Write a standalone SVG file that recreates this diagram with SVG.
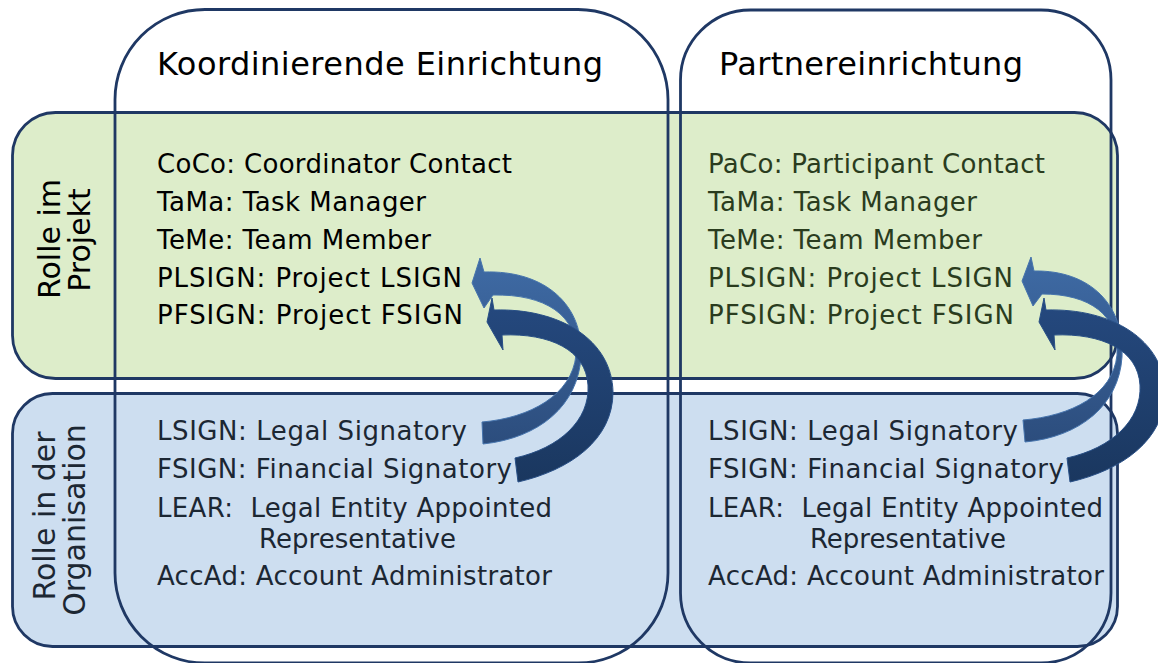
<svg xmlns="http://www.w3.org/2000/svg" width="1158" height="663" viewBox="0 0 1158 663">
  <defs>
    <linearGradient id="gl" x1="0" y1="0" x2="0" y2="1">
      <stop offset="0" stop-color="#3f6ba5"/>
      <stop offset="1" stop-color="#2c4d7d"/>
    </linearGradient>
    <linearGradient id="gd" x1="0" y1="0" x2="0" y2="1">
      <stop offset="0" stop-color="#25497f"/>
      <stop offset="1" stop-color="#1a375f"/>
    </linearGradient>
  </defs>
  <style>
    .row { stroke: #1f3864; stroke-width: 2.8; }
    .green { fill: #ddedca; }
    .blue { fill: #cddef0; }
    .col { fill: none; stroke: #1f3864; stroke-width: 2.8; }
    text { font-family: "DejaVu Sans", Verdana, sans-serif; }
    .title { font-size: 32px; fill: #000; }
    .body { font-size: 26px; }
    .k { fill: #000; }
    .g { fill: #2a3c1e; }
    .b { fill: #1c2733; }
    .vl { font-size: 30px; text-anchor: middle; }
    .al { fill: url(#gl); stroke: #4674ad; stroke-width: 1; }
    .ad { fill: url(#gd); stroke: #284f86; stroke-width: 1; }
  </style>
  <rect width="1158" height="663" fill="#ffffff"/>

  <g id="row-projekt">
    <rect class="row green" x="12.5" y="112.5" width="1105" height="266" rx="43"/>
    <text class="vl k" transform="translate(60,239) rotate(-90)">Rolle im</text>
    <text class="vl k" transform="translate(90,240) rotate(-90)">Projekt</text>
  </g>
  <g id="row-organisation">
    <rect class="row blue" x="12.5" y="393.5" width="1105" height="253" rx="40"/>
    <text class="vl b" transform="translate(55,516) rotate(-90)">Rolle in der</text>
    <text class="vl b" transform="translate(85,520) rotate(-90)">Organisation</text>
  </g>

  <g id="col-koordinierend">
    <rect class="col" x="115" y="9.5" width="553" height="653.5" rx="90"/>
    <text class="title" x="157" y="75" textLength="446" lengthAdjust="spacing">Koordinierende Einrichtung</text>
    <g class="body k">
      <text x="157" y="173" textLength="355" lengthAdjust="spacing">CoCo: Coordinator Contact</text>
      <text x="157" y="211" textLength="269" lengthAdjust="spacing">TaMa: Task Manager</text>
      <text x="157" y="249" textLength="274" lengthAdjust="spacing">TeMe: Team Member</text>
      <text x="157" y="287" textLength="305" lengthAdjust="spacing">PLSIGN: Project LSIGN</text>
      <text x="157" y="324" textLength="306" lengthAdjust="spacing">PFSIGN: Project FSIGN</text>
    </g>
    <g class="body b">
      <text x="157" y="440" textLength="310" lengthAdjust="spacing">LSIGN: Legal Signatory</text>
      <text x="157" y="478" textLength="355" lengthAdjust="spacing">FSIGN: Financial Signatory</text>
      <text x="157" y="517" textLength="395" lengthAdjust="spacing" xml:space="preserve">LEAR:  Legal Entity Appointed</text>
      <text x="259" y="548" textLength="197" lengthAdjust="spacing">Representative</text>
      <text x="157" y="585" textLength="395" lengthAdjust="spacing">AccAd: Account Administrator</text>
    </g>
  </g>

  <g id="col-partner">
    <rect class="col" x="680.5" y="10" width="430.5" height="653" rx="70"/>
    <text class="title" x="719" y="75" textLength="304" lengthAdjust="spacing">Partnereinrichtung</text>
    <g class="body g">
      <text x="708" y="173" textLength="337" lengthAdjust="spacing">PaCo: Participant Contact</text>
      <text x="708" y="211" textLength="269" lengthAdjust="spacing">TaMa: Task Manager</text>
      <text x="708" y="249" textLength="274" lengthAdjust="spacing">TeMe: Team Member</text>
      <text x="708" y="287" textLength="305" lengthAdjust="spacing">PLSIGN: Project LSIGN</text>
      <text x="708" y="324" textLength="306" lengthAdjust="spacing">PFSIGN: Project FSIGN</text>
    </g>
    <g class="body b">
      <text x="708" y="440" textLength="310" lengthAdjust="spacing">LSIGN: Legal Signatory</text>
      <text x="708" y="478" textLength="356" lengthAdjust="spacing">FSIGN: Financial Signatory</text>
      <text x="708" y="517" textLength="395" lengthAdjust="spacing" xml:space="preserve">LEAR:  Legal Entity Appointed</text>
      <text x="810" y="548" textLength="196" lengthAdjust="spacing">Representative</text>
      <text x="708" y="585" textLength="396" lengthAdjust="spacing">AccAd: Account Administrator</text>
    </g>
  </g>

  <g id="connectors">
    <path id="arrow-lsign-1" class="al" d="M 482,422 C 530,418 572,395 576,355 C 578,315 545,294 493,295 L 484,308 L 472,283 L 480,258 L 484,272 C 545,270 584,305 581,357 C 578,405 540,438 483,444 Z"/>
    <path id="arrow-fsign-1" class="ad" d="M 515,458 C 560,448 590,420 588,385 C 586,350 550,333 502,335 L 503,350 L 487,322 L 492,298 L 494,310 C 560,308 612,340 613,392 C 613,440 570,470 518,482 Z"/>
    <path id="arrow-lsign-2" class="al" d="M 1023,420 C 1071,416 1113,395 1117,355 C 1119,315 1090,294 1042,294 L 1033,306 L 1022,281 L 1031,257 L 1034,271 C 1090,270 1125,305 1122,357 C 1119,405 1080,437 1025,442 Z"/>
    <path id="arrow-fsign-2" class="ad" transform="translate(552,0)" d="M 515,458 C 560,448 590,420 588,385 C 586,350 550,333 502,335 L 503,350 L 487,322 L 492,298 L 494,310 C 560,308 612,340 613,392 C 613,440 570,470 518,482 Z"/>
  </g>
</svg>
